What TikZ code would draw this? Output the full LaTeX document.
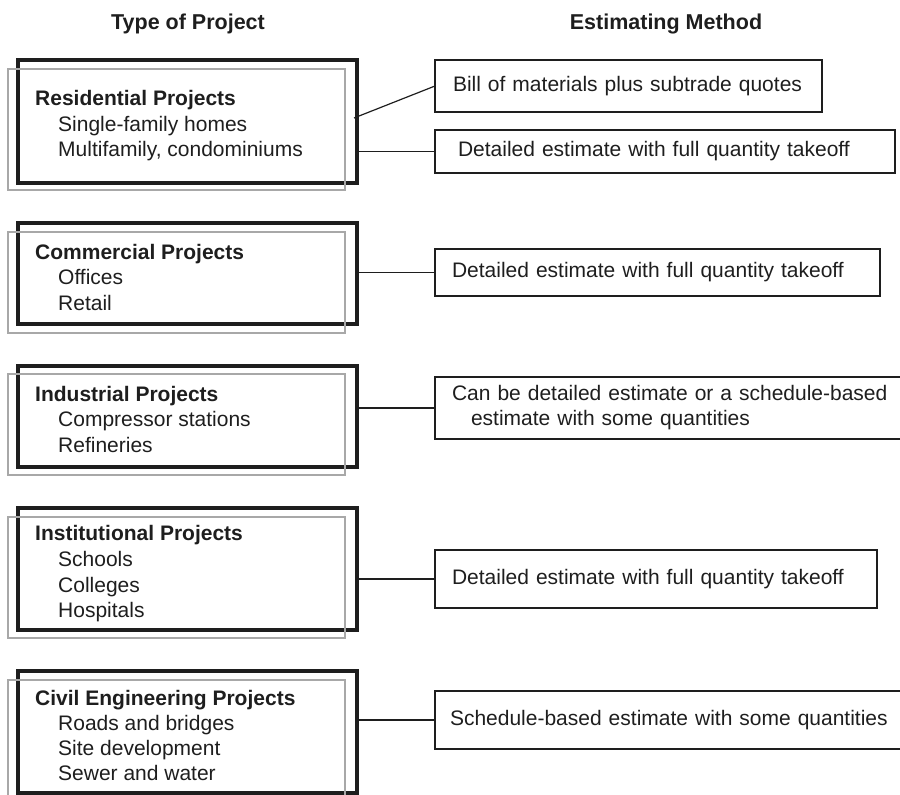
\documentclass[tikz,border=0pt]{standalone}
\usepackage{fontspec}
\setmainfont{Liberation Sans}
\definecolor{ink}{HTML}{1E1E1E}
\definecolor{framegray}{HTML}{A8A8A8}
\begin{document}
\begin{tikzpicture}[x=1pt,y=-1pt,
  heading/.style={font=\bfseries\fontsize{21.5}{24}\selectfont, text=ink, anchor=base, inner sep=0},
  ptitle/.style={font=\bfseries\fontsize{21}{24}\selectfont, text=ink, anchor=base west, inner sep=0},
  pitem/.style={font=\fontsize{21}{24}\selectfont, text=ink, anchor=base west, inner sep=0},
  projbox/.style={draw=ink, line width=4pt, anchor=north west, minimum width=339pt, inner sep=0, outer sep=0},
  frame/.style={draw=framegray, line width=1.5pt},
  methbox/.style={draw=ink, line width=1.3pt, anchor=north west, inner ysep=0, outer sep=0, align=left,
    font=\fontsize{21}{25}\selectfont, text=ink},
  link/.style={draw=ink, line width=1.2pt}]
\useasboundingbox (0,0) rectangle (900,795);
\clip (0,0) rectangle (900,795);

% column headings
\node[heading] (hType) at (188,29) {Type of Project};
\node[heading] (hMethod) at (666,29) {Estimating Method};

% project boxes: heavy outline with a light offset frame over it
\node[projbox, minimum height=123pt] (res) at (18,60) {};
\node[projbox, minimum height=101pt] (com) at (18,223) {};
\node[projbox, minimum height=101pt] (ind) at (18,366) {};
\node[projbox, minimum height=122pt] (ins) at (18,508) {};
\node[projbox, minimum height=122pt] (civ) at (18,671) {};

\draw[frame] (8,69) rectangle (345,190);
\draw[frame] (8,232) rectangle (345,333);
\draw[frame] (8,374) rectangle (345,475);
\draw[frame] (8,517) rectangle (345,638);
\draw[frame] (8,680) rectangle (345,810);

% project texts
\node[ptitle] (resT) at (35,105) {Residential Projects};
\node[pitem] (res1) at (58,131) {Single-family homes};
\node[pitem] (res2) at (58,156) {Multifamily, condominiums};

\node[ptitle] (comT) at (35,259) {Commercial Projects};
\node[pitem] (com1) at (58,284) {Offices};
\node[pitem] (com2) at (58,310) {Retail};

\node[ptitle] (indT) at (35,401) {Industrial Projects};
\node[pitem] (ind1) at (58,426) {Compressor stations};
\node[pitem] (ind2) at (58,452) {Refineries};

\node[ptitle] (insT) at (35,540) {Institutional Projects};
\node[pitem] (ins1) at (58,566) {Schools};
\node[pitem] (ins2) at (58,592) {Colleges};
\node[pitem] (ins3) at (58,617) {Hospitals};

\node[ptitle] (civT) at (35,705) {Civil Engineering Projects};
\node[pitem] (civ1) at (58,730) {Roads and bridges};
\node[pitem] (civ2) at (58,755) {Site development};
\node[pitem] (civ3) at (58,780) {Sewer and water};

% estimating methods
\node[methbox, inner xsep=18pt, text width=351pt, minimum height=52pt] (bill) at (435,60)
  {Bill of materials plus subtrade quotes};
\node[methbox, inner xsep=23pt, text width=414pt, minimum height=43pt] (det1) at (435,130)
  {Detailed estimate with full quantity takeoff};
\node[methbox, inner xsep=17pt, text width=411pt, minimum height=47pt] (det2) at (435,249)
  {Detailed estimate with full quantity takeoff};
\node[methbox, inner xsep=17pt, text width=436pt, minimum height=62pt] (mix) at (435,377)
  {Can be detailed estimate or a schedule-based\\\hspace*{19pt}estimate with some quantities};
\node[methbox, inner xsep=17pt, text width=408pt, minimum height=58pt] (det4) at (435,550)
  {Detailed estimate with full quantity takeoff};
\node[methbox, inner xsep=15pt, text width=440pt, minimum height=58pt] (sched) at (435,691)
  {Schedule-based estimate with some quantities};

% connectors
\coordinate (resOut) at (354,118);
\draw[link] (resOut) -- (bill.west);
\draw[link] (res.east |- det1.west) -- (det1.west);
\draw[link] (com.east |- det2.west) -- (det2.west);
\draw[link] (ind.east |- mix.west) -- (mix.west);
\draw[link] (ins.east |- det4.west) -- (det4.west);
\draw[link] (civ.east |- sched.west) -- (sched.west);
\end{tikzpicture}
\end{document}
